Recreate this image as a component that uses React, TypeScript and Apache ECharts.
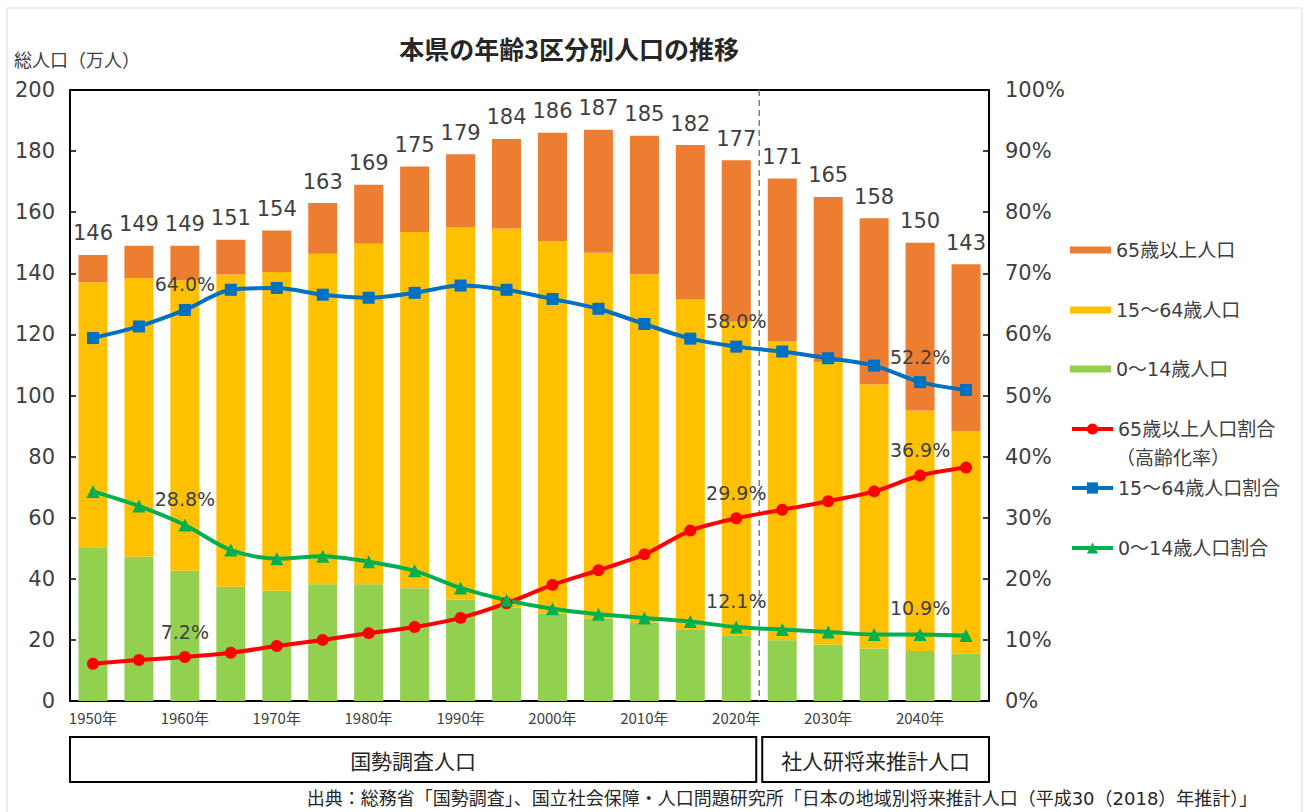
import React, { useEffect, useRef } from 'react';
import * as echarts from 'echarts';

const categories = [
  '1950年', '1955年', '1960年', '1965年', '1970年', '1975年', '1980年', '1985年', '1990年', '1995年',
  '2000年', '2005年', '2010年', '2015年', '2020年', '2025年', '2030年', '2035年', '2040年', '2045年',
];
const totals = [146, 149, 149, 151, 154, 163, 169, 175, 179, 184, 186, 187, 185, 182, 177, 171, 165, 158, 150, 143];
const pop0to14 = [50.3, 47.2, 42.6, 37.4, 36.1, 38.2, 38.2, 36.9, 33.2, 30.6, 28.7, 27.0, 25.7, 23.5, 21.5, 19.9, 18.5, 17.2, 16.4, 15.5];
const pop15to64 = [86.8, 91.3, 95.1, 102.2, 104.3, 108.2, 111.5, 116.6, 121.8, 124.1, 121.9, 119.7, 114.0, 107.9, 102.6, 97.8, 92.5, 86.5, 78.7, 72.9];
const pop65plus = [8.9, 10.5, 11.3, 11.4, 13.6, 16.6, 19.3, 21.5, 24.0, 29.3, 35.4, 40.3, 45.3, 50.6, 52.9, 53.3, 54.0, 54.3, 54.9, 54.6];
const ratio65plus = [6.1, 6.7, 7.2, 7.9, 9.0, 10.0, 11.1, 12.1, 13.6, 16.0, 19.0, 21.4, 24.0, 27.9, 29.9, 31.3, 32.7, 34.3, 36.9, 38.2];
const ratio15to64 = [59.4, 61.3, 64.0, 67.3, 67.6, 66.5, 66.0, 66.8, 68.0, 67.3, 65.8, 64.2, 61.7, 59.3, 58.0, 57.2, 56.1, 54.9, 52.2, 50.9];
const ratio0to14 = [34.3, 31.9, 28.8, 24.7, 23.3, 23.7, 22.8, 21.3, 18.5, 16.5, 15.1, 14.2, 13.6, 13.0, 12.1, 11.7, 11.3, 10.9, 10.9, 10.7];
const ratioLabelIndices = [2, 14, 18];
const lastCensusIndex = 14; // 2020年

const NUM_FONT = "'DejaVu Sans', 'Noto Sans CJK JP', sans-serif";
const JP_FONT = "'Noto Sans CJK JP', sans-serif";
const TXT = '#404040';

const withLabels = (arr: number[]) =>
  arr.map((v, i) => (ratioLabelIndices.includes(i) ? { value: v, label: { show: true } } : v));

export default function App() {
  const ref = useRef<HTMLDivElement>(null);
  useEffect(() => {
    if (!ref.current) return;
    const chart = echarts.init(ref.current, null, { renderer: 'svg' });
    const ratioLabel = {
      show: false,
      position: 'top',
      distance: 10,
      fontSize: 19,
      color: TXT,
      fontFamily: NUM_FONT,
      formatter: (p: any) => Number(p.value).toFixed(1) + '%',
    };
    const legendBase = {
      orient: 'vertical',
      left: 1070,
      padding: 0,
      itemWidth: 41,
      selectedMode: false,
      textStyle: { fontSize: 19, color: TXT, fontFamily: NUM_FONT },
    };
    chart.setOption({
      animation: false,
      backgroundColor: '#fff',
      grid: { left: 70, right: 317, top: 90, bottom: 111, show: true, borderColor: '#000', borderWidth: 2, containLabel: false },
      legend: [
        { ...legendBase, data: ['65歳以上人口'], top: 240.5, itemHeight: 7, icon: 'rect' },
        { ...legendBase, data: ['15～64歳人口'], top: 300.5, itemHeight: 7, icon: 'rect' },
        { ...legendBase, data: ['0～14歳人口'], top: 359.5, itemHeight: 7, icon: 'rect' },
        { ...legendBase, data: ['65歳以上人口割合'], top: 419.5, itemHeight: 14, lineStyle: { width: 4 } },
        { ...legendBase, data: ['15～64歳人口割合'], top: 478.5, itemHeight: 14, lineStyle: { width: 4 } },
        { ...legendBase, data: ['0～14歳人口割合'], top: 538.5, itemHeight: 14, lineStyle: { width: 4 } },
      ],
      xAxis: {
        type: 'category',
        data: categories,
        axisLine: { show: true, lineStyle: { color: '#000', width: 2 } },
        axisTick: { show: false },
        axisLabel: { interval: 1, fontSize: 15, color: TXT, fontFamily: JP_FONT, margin: 9 },
      },
      yAxis: [
        {
          type: 'value', min: 0, max: 200, interval: 20,
          axisLine: { show: true, lineStyle: { color: '#000', width: 2 } },
          axisTick: { show: true, inside: true, length: 6, lineStyle: { color: '#000', width: 1.5 } },
          splitLine: { show: false },
          axisLabel: { fontSize: 21, color: TXT, fontFamily: NUM_FONT, margin: 15 },
        },
        {
          type: 'value', min: 0, max: 100, interval: 10, position: 'right',
          axisLine: { show: true, lineStyle: { color: '#000', width: 2 } },
          axisTick: { show: true, inside: true, length: 6, lineStyle: { color: '#000', width: 1.5 } },
          splitLine: { show: false },
          axisLabel: { fontSize: 21, color: TXT, fontFamily: NUM_FONT, margin: 16, formatter: '{value}%' },
        },
      ],
      series: [
        { name: '0～14歳人口', type: 'bar', stack: 'pop', data: pop0to14, barWidth: 29, itemStyle: { color: '#92D050' } },
        { name: '15～64歳人口', type: 'bar', stack: 'pop', data: pop15to64, barWidth: 29, itemStyle: { color: '#FFC000' } },
        {
          name: '65歳以上人口', type: 'bar', stack: 'pop', data: pop65plus, barWidth: 29, itemStyle: { color: '#ED7D31' },
          label: {
            show: true, position: 'top', distance: 11, fontSize: 21, color: TXT, fontFamily: NUM_FONT,
            formatter: (p: any) => String(totals[p.dataIndex]),
          },
        },
        {
          name: '65歳以上人口割合', type: 'line', yAxisIndex: 1, data: withLabels(ratio65plus), smooth: 0.3,
          symbol: 'circle', symbolSize: 12, z: 5,
          lineStyle: { color: '#FF0000', width: 4 }, itemStyle: { color: '#FF0000' }, label: ratioLabel,
        },
        {
          name: '15～64歳人口割合', type: 'line', yAxisIndex: 1, data: withLabels(ratio15to64), smooth: 0.3,
          symbol: 'rect', symbolSize: 12, z: 5,
          lineStyle: { color: '#0070C0', width: 4 }, itemStyle: { color: '#0070C0' }, label: ratioLabel,
        },
        {
          name: '0～14歳人口割合', type: 'line', yAxisIndex: 1, data: withLabels(ratio0to14), smooth: 0.3,
          symbol: 'triangle', symbolSize: 13, z: 5,
          lineStyle: { color: '#00B050', width: 4 }, itemStyle: { color: '#00B050' }, label: ratioLabel,
        },
      ],
    });

    const px = (i: number) => chart.convertToPixel({ xAxisIndex: 0 }, i) as number;
    const band = px(1) - px(0);
    const gLeft = px(0) - band / 2;
    const gRight = px(categories.length - 1) + band / 2;
    const divX = (px(lastCensusIndex) + px(lastCensusIndex + 1)) / 2;
    const yTop = chart.convertToPixel({ yAxisIndex: 0 }, 200) as number;
    const yBot = chart.convertToPixel({ yAxisIndex: 0 }, 0) as number;
    const boxTop = 737;
    const boxH = 45;

    chart.setOption({
      graphic: [
        { type: 'rect', shape: { x: 7, y: 8, width: 1295, height: 830 }, style: { fill: 'none', stroke: '#d9d9d9', lineWidth: 1 }, silent: true },
        {
          type: 'line', shape: { x1: divX, y1: yTop, x2: divX, y2: yBot },
          style: { stroke: '#7f7f7f', lineWidth: 1.5, lineDash: [6, 4] }, z: 3,
        },
        {
          type: 'text', x: 569, y: 48,
          style: { text: '本県の年齢3区分別人口の推移', fontSize: 25, fontWeight: 'bold', fill: '#262626', fontFamily: JP_FONT, align: 'center', verticalAlign: 'middle' },
        },
        {
          type: 'text', x: 14, y: 59,
          style: { text: '総人口（万人）', fontSize: 18, fill: TXT, fontFamily: JP_FONT, align: 'left', verticalAlign: 'middle' },
        },
        {
          type: 'text', x: 1116, y: 456,
          style: { text: '（高齢化率）', fontSize: 19, fill: TXT, fontFamily: JP_FONT, align: 'left', verticalAlign: 'middle' },
        },
        {
          type: 'rect', shape: { x: gLeft, y: boxTop, width: divX - 3 - gLeft, height: boxH },
          style: { fill: '#fff', stroke: '#000', lineWidth: 2 },
        },
        {
          type: 'rect', shape: { x: divX + 3, y: boxTop, width: gRight - divX - 3, height: boxH },
          style: { fill: '#fff', stroke: '#000', lineWidth: 2 },
        },
        {
          type: 'text', x: (gLeft + divX - 3) / 2, y: boxTop + boxH / 2,
          style: { text: '国勢調査人口', fontSize: 21, fill: '#262626', fontFamily: JP_FONT, align: 'center', verticalAlign: 'middle' },
        },
        {
          type: 'text', x: (divX + 3 + gRight) / 2, y: boxTop + boxH / 2,
          style: { text: '社人研将来推計人口', fontSize: 21, fill: '#262626', fontFamily: JP_FONT, align: 'center', verticalAlign: 'middle' },
        },
        {
          type: 'text', x: 782, y: 798,
          style: { text: '出典：総務省「国勢調査」、国立社会保障・人口問題研究所「日本の地域別将来推計人口（平成30（2018）年推計）」', fontSize: 18, fill: '#262626', fontFamily: NUM_FONT, align: 'center', verticalAlign: 'middle' },
        },
      ],
    });
    return () => chart.dispose();
  }, []);
  return <div ref={ref} style={{ position: 'fixed', left: 0, top: 0, width: 1306, height: 812 }} />;
}
